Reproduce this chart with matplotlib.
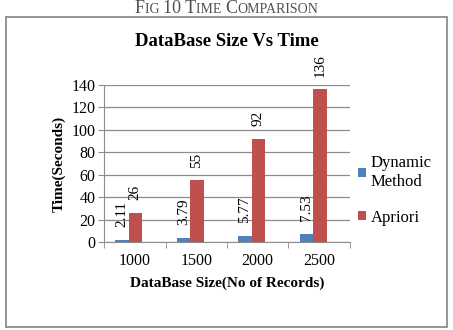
import matplotlib
matplotlib.use("Agg")
import matplotlib.pyplot as plt
import numpy as np
from matplotlib.patches import Rectangle

plt.rcParams['font.family'] = ['Liberation Serif', 'DejaVu Serif']

# data
sizes = ['1000', '1500', '2000', '2500']
dynamic = [2.11, 3.79, 5.77, 7.53]
apriori = [26, 55, 92, 136]
dyn_labels = ['2.11', '3.79', '5.77', '7.53']
apr_labels = ['26', '55', '92', '136']

blue = '#4F81BD'
red = '#C0504D'

fig = plt.figure(figsize=(4.53, 3.30), dpi=100)

# outer frame around the chart
fig.patches.append(Rectangle((0.013, 0.009), 0.974, 0.939, transform=fig.transFigure,
                             fill=False, edgecolor='#8c8c8c', linewidth=1.3))

# small-caps caption above the frame
caption = [('F', 13), ('IG ', 10), ('10 T', 13), ('IME ', 10), ('C', 13), ('OMPARISON', 10)]
r = fig.canvas.get_renderer()
parts = []
x = 0
for s, fs in caption:
    t = fig.text(x, 0.962, s, fontsize=fs, color='#505050', va='baseline', ha='left')
    parts.append(t)
    x += t.get_window_extent(r).width / fig.bbox.width
start = 0.5 - x / 2
for t in parts:
    t.set_x(t.get_position()[0] + start)

ax = fig.add_axes([0.2296, 0.2667, 0.543, 0.4757])
idx = np.arange(len(sizes))
w = 0.22
shift = -0.1
b1 = ax.bar(idx + shift - w / 2, dynamic, w, color=blue)
b2 = ax.bar(idx + shift + w / 2, apriori, w, color=red)

for bars, labels in ((b1, dyn_labels), (b2, apr_labels)):
    for b, lab in zip(bars, labels):
        ax.annotate(lab, (b.get_x() + b.get_width() / 2, b.get_height()),
                    xytext=(0, 9), textcoords='offset points', rotation=90,
                    ha='center', va='bottom', fontsize=11)

ax.set_xlim(-0.5, len(sizes) - 0.5)
ax.set_ylim(0, 140)
ax.set_yticks(range(0, 141, 20))
ax.set_xticks(idx)
ax.set_xticklabels(sizes, fontsize=11.5)
ax.set_xticks(np.arange(-0.5, len(sizes)), minor=True)
ax.tick_params(axis='x', which='major', length=0, pad=8)
ax.tick_params(axis='x', which='minor', length=4, color='#8c8c8c')
ax.tick_params(axis='y', length=4, color='#8c8c8c', labelsize=11.5, pad=2)
ax.grid(axis='y', color='#8c8c8c', linewidth=0.9)
ax.set_axisbelow(True)
for s in ('top', 'right'):
    ax.spines[s].set_visible(False)
ax.spines['left'].set_color('#8c8c8c')
ax.spines['bottom'].set_color('#8c8c8c')

ax.set_title('DataBase Size Vs Time', fontsize=13.5, fontweight='bold', pad=28)
ax.set_xlabel('DataBase Size(No of Records)', fontsize=11, fontweight='bold', labelpad=5)
ax.set_ylabel('Time(Seconds)', fontsize=11, fontweight='bold', labelpad=4)

fig.legend([b1, b2], ['Dynamic\nMethod', 'Apriori'], loc='upper left',
           bbox_to_anchor=(0.757, 0.575), frameon=False, fontsize=12,
           handlelength=0.5, handleheight=0.5, handletextpad=0.25,
           labelspacing=1.2)

fig.savefig('out.png', dpi=100)
